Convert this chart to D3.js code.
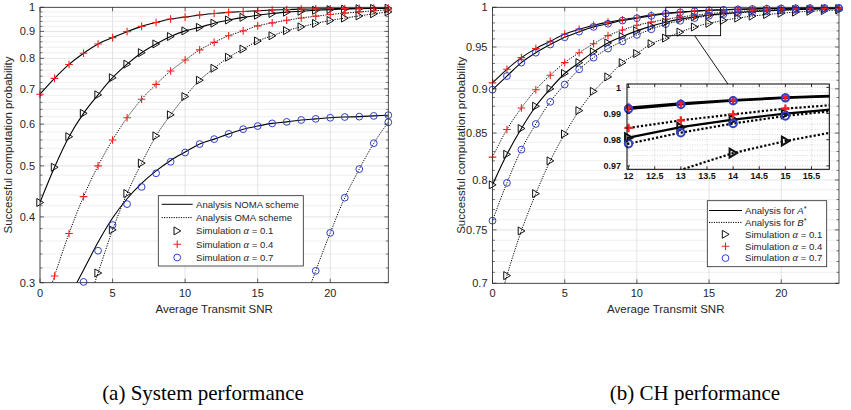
<!DOCTYPE html>
<html>
<head>
<meta charset="utf-8">
<script src="https://cdn.jsdelivr.net/npm/d3@7"></script>
<style>
body { margin: 0; background: #fff; }
svg text { font-family: "Liberation Sans", Arial, sans-serif; fill: #262626; }
</style>
</head>
<body>
<svg id="chart" width="851" height="410"></svg>
<script>
var snr = [0,1,2,3,4,5,6,7,8,9,10,11,12,13,14,15,16,17,18,19,20,21,22,23,24];

// (a) system performance
var nomaA01 = [0.426,0.497,0.568,0.629,0.682,0.735,0.780,0.820,0.852,0.880,0.902,0.916,0.933,0.946,0.957,0.966,0.973,0.979,0.983,0.987,0.990,0.992,0.994,0.995,0.996];
var nomaA04 = [0.684,0.733,0.779,0.818,0.852,0.876,0.899,0.920,0.936,0.950,0.958,0.967,0.973,0.978,0.982,0.985,0.988,0.990,0.992,0.993,0.994,0.995,0.996,0.997,0.997];
var nomaA07 = [0.215,0.247,0.281,0.317,0.358,0.398,0.433,0.463,0.489,0.512,0.531,0.550,0.562,0.575,0.587,0.595,0.602,0.606,0.611,0.614,0.617,0.619,0.620,0.622,0.624];
var nomaSim07 = [0.205,0.235,0.268,0.301,0.345,0.386,0.423,0.456,0.484,0.509,0.530,0.550,0.562,0.575,0.587,0.595,0.602,0.606,0.611,0.614,0.617,0.619,0.620,0.622,0.624];
var omaA01 = [null,null,null,0.260,0.313,0.378,0.443,0.506,0.570,0.625,0.677,0.727,0.766,0.804,0.833,0.863,0.883,0.903,0.918,0.932,0.944,0.954,0.963,0.972,0.980];
var omaA04 = [0.255,0.309,0.372,0.437,0.500,0.560,0.617,0.669,0.714,0.757,0.794,0.830,0.858,0.883,0.902,0.922,0.934,0.945,0.954,0.962,0.969,0.975,0.980,0.985,0.989];
var omaA07 = [null,null,null,null,null,null,null,null,null,null,null,null,null,null,null,null,null,null,0.265,0.316,0.373,0.435,0.493,0.552,0.605];

// (b) CH performance
var aStar01 = [0.795,0.827,0.855,0.880,0.900,0.918,0.931,0.944,0.955,0.963,0.970,0.976,0.9808,0.9848,0.9877,0.9900,0.9918,0.9933,0.9946,0.9956,0.9964,0.9971,0.9976,0.9980,0.9984];
var aStar04 = [0.907,0.923,0.937,0.948,0.957,0.966,0.972,0.977,0.981,0.984,0.987,0.990,0.9923,0.9939,0.9951,0.9962,0.9969,0.9975,0.9980,0.9984,0.9987,0.9989,0.9991,0.9993,0.9994];
var aStar07 = [0.899,0.915,0.931,0.943,0.953,0.962,0.969,0.975,0.979,0.983,0.986,0.989,0.9918,0.9935,0.9949,0.9960,0.9967,0.9973,0.9978,0.9982,0.9985,0.9988,0.9990,0.9992,0.9993];
var bStar01 = [0.660,0.707,0.749,0.786,0.820,0.849,0.875,0.897,0.914,0.931,0.942,0.954,0.961,0.9685,0.9749,0.9795,0.9832,0.9862,0.9887,0.9907,0.9924,0.9938,0.9949,0.9958,0.9966];
var bStar04 = [0.824,0.854,0.878,0.899,0.916,0.931,0.943,0.954,0.964,0.971,0.977,0.981,0.9845,0.9874,0.9897,0.9919,0.9934,0.9946,0.9956,0.9964,0.9970,0.9975,0.9979,0.9983,0.9986];
var bStar07 = [0.759,0.797,0.832,0.860,0.885,0.905,0.923,0.937,0.948,0.957,0.965,0.972,0.9785,0.9827,0.9862,0.9891,0.9912,0.9928,0.9941,0.9952,0.9961,0.9968,0.9974,0.9979,0.9983];

var xTicks = [0,5,10,15,20];
var yTicksA = [0.3,0.4,0.5,0.6,0.7,0.8,0.9,1];
var yTicksB = [0.7,0.75,0.8,0.85,0.9,0.95,1];
var insetXTicks = [12,12.5,13,13.5,14,14.5,15,15.5];
var insetYTicks = [0.97,0.98,0.99,1];

var legendA = ["Analysis NOMA scheme","Analysis OMA scheme","0.1","0.4","0.7"];
var legendB = ["A","B","0.1","0.4","0.7"];

var RED = "#f52020", BLUE = "#2f3fc8", INK = "#262626";

var svg = d3.select("#chart");

function pairs(vals) {
  return snr.map(function(s, i) { return [s, vals[i]]; });
}

function marker(g, type, cx, cy, k, sw) {
  if (type === "tri") {
    g.append("path")
      .attr("d", "M" + (cx - 3.2*k) + "," + (cy - 4*k) + "L" + (cx + 3.6*k) + "," + cy + "L" + (cx - 3.2*k) + "," + (cy + 4*k) + "Z")
      .attr("fill", "none").attr("stroke", "#111").attr("stroke-width", sw);
  } else if (type === "plus") {
    g.append("path")
      .attr("d", "M" + (cx - 3.8*k) + "," + cy + "H" + (cx + 3.8*k) + "M" + cx + "," + (cy - 3.8*k) + "V" + (cy + 3.8*k))
      .attr("stroke", RED).attr("stroke-width", sw * 1.1);
  } else {
    g.append("circle").attr("cx", cx).attr("cy", cy).attr("r", 3.4*k)
      .attr("fill", "none").attr("stroke", BLUE).attr("stroke-width", sw);
  }
}

function drawSeries(g, x, y, vals, dashed, lw, curve) {
  var line = d3.line()
    .defined(function(d) { return d[1] != null; })
    .x(function(d) { return x(d[0]); })
    .y(function(d) { return y(d[1]); })
    .curve(curve || d3.curveMonotoneX);
  g.append("path").datum(pairs(vals))
    .attr("d", line)
    .attr("fill", "none")
    .attr("stroke", "#000")
    .attr("stroke-width", lw)
    .attr("stroke-dasharray", dashed ? (lw > 1.5 ? "2.2,2" : "1.2,1.3") : null);
}

// a marker is drawn whole when its data point lies inside the axes
function drawMarkers(g, x, y, vals, type, k, sw) {
  var xd = x.domain(), yd = y.domain();
  pairs(vals).forEach(function(d) {
    if (d[1] == null) return;
    if (d[0] < xd[0] || d[0] > xd[1] || d[1] < yd[0] - 1e-9 || d[1] > yd[1] + 1e-9) return;
    marker(g, type, x(d[0]), y(d[1]), k, sw);
  });
}

function clip(id, x, y) {
  svg.append("clipPath").attr("id", id).append("rect")
    .attr("x", x.range()[0]).attr("y", y.range()[1])
    .attr("width", x.range()[1] - x.range()[0])
    .attr("height", y.range()[0] - y.range()[1]);
}

function frame(g, x, y, yTicks, yMinor, tickFmt) {
  var x0 = x.range()[0], x1 = x.range()[1], y0 = y.range()[0], y1 = y.range()[1];
  // inward ticks on every side
  yMinor.forEach(function(v) {
    g.append("path").attr("d", "M" + x0 + "," + y(v) + "h2.5M" + x1 + "," + y(v) + "h-2.5")
      .attr("stroke", INK).attr("stroke-width", 0.6);
  });
  yTicks.forEach(function(v) {
    g.append("path").attr("d", "M" + x0 + "," + y(v) + "h4M" + x1 + "," + y(v) + "h-4")
      .attr("stroke", INK).attr("stroke-width", 0.7);
  });
  xTicks.forEach(function(v) {
    g.append("path").attr("d", "M" + x(v) + "," + y0 + "v-4M" + x(v) + "," + y1 + "v4")
      .attr("stroke", INK).attr("stroke-width", 0.7);
  });
  g.append("rect").attr("x", x0).attr("y", y1).attr("width", x1 - x0).attr("height", y0 - y1)
    .attr("fill", "none").attr("stroke", INK).attr("stroke-width", 0.8);

  g.selectAll(".ylab").data(yTicks).enter().append("text")
    .attr("x", x0 - 5).attr("y", function(d) { return y(d); })
    .attr("dy", "0.35em").attr("text-anchor", "end").attr("font-size", 11)
    .text(tickFmt);
  g.selectAll(".xlab").data(xTicks).enter().append("text")
    .attr("x", function(d) { return x(d); }).attr("y", y0 + 14)
    .attr("text-anchor", "middle").attr("font-size", 11)
    .text(function(d) { return d; });

  g.append("text").attr("x", (x0 + x1) / 2).attr("y", y0 + 30)
    .attr("text-anchor", "middle").attr("font-size", 11.5).text("Average Transmit SNR");
  g.append("text")
    .attr("transform", "translate(" + (x0 - 28) + "," + ((y0 + y1) / 2) + ") rotate(-90)")
    .attr("text-anchor", "middle").attr("font-size", 11.5)
    .text("Successful computation probability");
}

function grid(g, x, y, yTicks, yMinor) {
  var x0 = x.range()[0], x1 = x.range()[1], y0 = y.range()[0], y1 = y.range()[1];
  yMinor.forEach(function(v) {
    g.append("line").attr("x1", x0).attr("x2", x1).attr("y1", y(v)).attr("y2", y(v))
      .attr("stroke", "#ebebeb").attr("stroke-width", 0.8);
  });
  yTicks.forEach(function(v) {
    g.append("line").attr("x1", x0).attr("x2", x1).attr("y1", y(v)).attr("y2", y(v))
      .attr("stroke", "#dcdcdc").attr("stroke-width", 0.8);
  });
  xTicks.forEach(function(v) {
    g.append("line").attr("x1", x(v)).attr("x2", x(v)).attr("y1", y0).attr("y2", y1)
      .attr("stroke", "#dcdcdc").attr("stroke-width", 0.8);
  });
}

function legend(g, bx, by, bw, bh, rowY, step, lineX0, lineX1, textX, labels, kind) {
  g.append("rect").attr("x", bx).attr("y", by).attr("width", bw).attr("height", bh)
    .attr("fill", "#fff").attr("stroke", INK).attr("stroke-width", 0.8);
  var types = ["tri", "plus", "circ"];
  labels.forEach(function(lab, i) {
    var yy = rowY + i * step;
    if (i < 2) {
      g.append("line").attr("x1", lineX0).attr("x2", lineX1).attr("y1", yy).attr("y2", yy)
        .attr("stroke", "#000").attr("stroke-width", 1)
        .attr("stroke-dasharray", i === 1 ? "1.2,1.2" : null);
    } else {
      marker(g, types[i - 2], (lineX0 + lineX1) / 2, yy, 1, 1);
    }
    var t = g.append("text").attr("x", textX).attr("y", yy).attr("dy", "0.35em").attr("font-size", 9.6);
    if (i < 2 && kind === "b") {
      t.append("tspan").text("Analysis for  ");
      t.append("tspan").attr("font-style", "italic").text(lab);
      t.append("tspan").attr("dy", "-3").attr("font-size", 7.5).text("*");
    } else if (i < 2) {
      t.text(lab);
    } else {
      t.append("tspan").text("Simulation ");
      t.append("tspan").attr("font-family", "Liberation Serif, serif").attr("font-style", "italic")
        .attr("font-size", 10.5).text("\u03b1");
      t.append("tspan").text(" = " + lab);
    }
  });
}

// ---------- panel (a) ----------
var xA = d3.scaleLinear().domain([0, 24]).range([40, 388.3]);
var yA = d3.scaleLog().domain([0.3, 1]).range([282.7, 7.3]);
var minorA = d3.range(0.32, 1.0, 0.02).filter(function(v) { return Math.abs(v * 10 - Math.round(v * 10)) > 0.01; });
clip("clipA", xA, yA);
var gA = svg.append("g");
grid(gA, xA, yA, yTicksA, minorA);
var plotA = gA.append("g").attr("clip-path", "url(#clipA)");
drawSeries(plotA, xA, yA, nomaA01, false, 1.1);
drawSeries(plotA, xA, yA, nomaA04, false, 1.1);
drawSeries(plotA, xA, yA, nomaA07, false, 1.1);
drawSeries(plotA, xA, yA, omaA01, true, 1);
drawSeries(plotA, xA, yA, omaA04, true, 1);
drawSeries(plotA, xA, yA, omaA07, true, 1);
var mkA = gA.append("g");
drawMarkers(mkA, xA, yA, nomaA01, "tri", 1, 1);
drawMarkers(mkA, xA, yA, omaA01, "tri", 1, 1);
drawMarkers(mkA, xA, yA, nomaA04, "plus", 1, 1);
drawMarkers(mkA, xA, yA, omaA04, "plus", 1, 1);
drawMarkers(mkA, xA, yA, nomaSim07, "circ", 1, 1);
drawMarkers(mkA, xA, yA, omaA07, "circ", 1, 1);
frame(gA, xA, yA, yTicksA, minorA, function(d) { return d; });
legend(gA, 158.3, 195.7, 145, 70.3, 204.3, 13.3, 161.7, 192.7, 196, legendA, "a");

// ---------- panel (b) ----------
var xB = d3.scaleLinear().domain([0, 24]).range([492.5, 839]);
var yB = d3.scaleLog().domain([0.7, 1]).range([283.3, 7.3]);
var minorB = d3.range(0.71, 1.0, 0.01).filter(function(v) { return Math.abs(v * 20 - Math.round(v * 20)) > 0.01; });
clip("clipB", xB, yB);
var gB = svg.append("g");
grid(gB, xB, yB, yTicksB, minorB);
var plotB = gB.append("g").attr("clip-path", "url(#clipB)");
[aStar01, aStar04, aStar07].forEach(function(v) { drawSeries(plotB, xB, yB, v, false, 1.1); });
[bStar01, bStar04, bStar07].forEach(function(v) { drawSeries(plotB, xB, yB, v, true, 1); });
var mkB = gB.append("g");
drawMarkers(mkB, xB, yB, aStar01, "tri", 1, 1);
drawMarkers(mkB, xB, yB, bStar01, "tri", 1, 1);
drawMarkers(mkB, xB, yB, aStar04, "plus", 1, 1);
drawMarkers(mkB, xB, yB, bStar04, "plus", 1, 1);
drawMarkers(mkB, xB, yB, aStar07, "circ", 1, 1);
drawMarkers(mkB, xB, yB, bStar07, "circ", 1, 1);

// zoom box and connector
gB.append("rect").attr("x", xB(12)).attr("y", yB(1)).attr("width", xB(15.8) - xB(12))
  .attr("height", yB(0.964) - yB(1)).attr("fill", "none").attr("stroke", "#000").attr("stroke-width", 0.9);

// inset
var xI = d3.scaleLinear().domain([11.97, 15.84]).range([627, 829.3]);
var yI = d3.scaleLinear().domain([0.9687, 1.0013]).range([169.3, 84]);
gB.append("line").attr("x1", xB(14)).attr("y1", yB(0.964)).attr("x2", xI(13.9)).attr("y2", yI.range()[1])
  .attr("stroke", "#000").attr("stroke-width", 0.9);
clip("clipI", xI, yI);
var gI = gB.append("g");
gI.append("rect").attr("x", 627).attr("y", 84).attr("width", 829.3 - 627).attr("height", 169.3 - 84)
  .attr("fill", "#fff");
d3.range(0.970, 1.0005, 0.002).forEach(function(v) {
  gI.append("line").attr("x1", 627).attr("x2", 829.3).attr("y1", yI(v)).attr("y2", yI(v))
    .attr("stroke", "#c8c8c8").attr("stroke-width", 0.7).attr("stroke-dasharray", "1,1.5");
});
insetXTicks.forEach(function(v) {
  gI.append("line").attr("x1", xI(v)).attr("x2", xI(v)).attr("y1", 84).attr("y2", 169.3)
    .attr("stroke", "#c8c8c8").attr("stroke-width", 0.7).attr("stroke-dasharray", "1,1.5");
});
var plotI = gI.append("g").attr("clip-path", "url(#clipI)");
[aStar01, aStar04, aStar07].forEach(function(v) { drawSeries(plotI, xI, yI, v, false, 2.2, d3.curveLinear); });
[bStar01, bStar04, bStar07].forEach(function(v) { drawSeries(plotI, xI, yI, v, true, 2.2, d3.curveLinear); });
var mkI = gI.append("g");
drawMarkers(mkI, xI, yI, aStar01, "tri", 1.1, 2);
drawMarkers(mkI, xI, yI, bStar01, "tri", 1.1, 2);
drawMarkers(mkI, xI, yI, aStar04, "plus", 1.1, 2);
drawMarkers(mkI, xI, yI, bStar04, "plus", 1.1, 2);
drawMarkers(mkI, xI, yI, aStar07, "circ", 1.1, 2);
drawMarkers(mkI, xI, yI, bStar07, "circ", 1.1, 2);
gI.append("rect").attr("x", 627).attr("y", 84).attr("width", 829.3 - 627).attr("height", 169.3 - 84)
  .attr("fill", "none").attr("stroke", "#000").attr("stroke-width", 1);
insetXTicks.forEach(function(v) {
  gI.append("path").attr("d", "M" + xI(v) + ",169.3v-3M" + xI(v) + ",84v3").attr("stroke", "#000").attr("stroke-width", 0.8);
});
insetYTicks.forEach(function(v) {
  gI.append("path").attr("d", "M627," + yI(v) + "h3M829.3," + yI(v) + "h-3").attr("stroke", "#000").attr("stroke-width", 0.8);
});
gI.selectAll(".iy").data(insetYTicks).enter().append("text")
  .attr("x", 621).attr("y", function(d) { return yI(d); }).attr("dy", "0.35em")
  .attr("text-anchor", "end").attr("font-size", 9).attr("font-weight", "bold").style("fill", "#111")
  .text(function(d) { return d; });
gI.selectAll(".ix").data(insetXTicks).enter().append("text")
  .attr("x", function(d) { return xI(d); }).attr("y", 178.5)
  .attr("text-anchor", "middle").attr("font-size", 9).attr("font-weight", "bold").style("fill", "#111")
  .text(function(d) { return d; });

frame(gB, xB, yB, yTicksB, minorB, function(d) { return d; });
legend(gB, 707.3, 200.7, 119.4, 66, 210.5, 11.9, 709, 742, 745, legendB, "b");

// captions
svg.append("text").attr("x", 203).attr("y", 400).attr("text-anchor", "middle")
  .style("font-family", "'Liberation Serif', 'DejaVu Serif', serif").style("fill", "#000")
  .attr("font-size", 21).text("(a) System performance");
svg.append("text").attr("x", 695).attr("y", 400).attr("text-anchor", "middle")
  .style("font-family", "'Liberation Serif', 'DejaVu Serif', serif").style("fill", "#000")
  .attr("font-size", 21).text("(b) CH performance");
</script>
</body>
</html>
